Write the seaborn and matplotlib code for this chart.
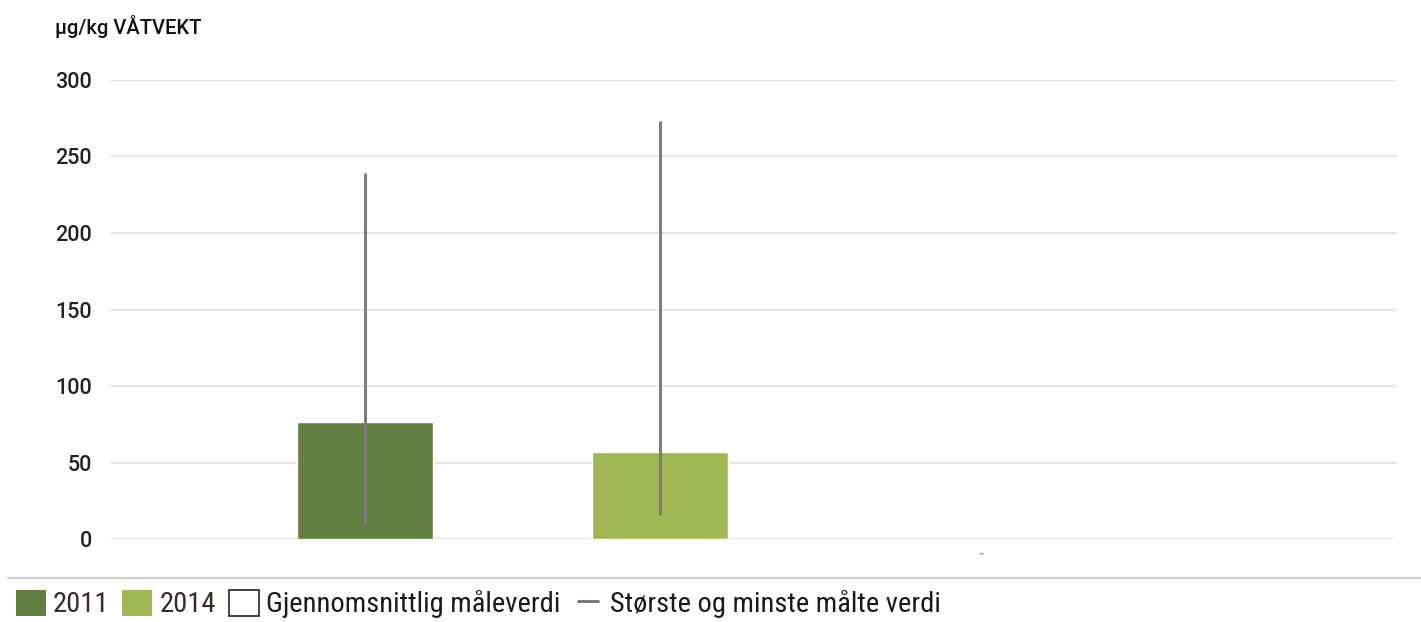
import matplotlib
matplotlib.use("Agg")
import matplotlib.pyplot as plt
from matplotlib.patches import Patch
from matplotlib.lines import Line2D
import seaborn as sns
import pandas as pd

# Measured mercury levels, µg/kg wet weight
years = ["2011", "2014"]
mean_values = [76.5, 57.0]
min_values = [10.0, 16.0]
max_values = [239.0, 273.0]
bar_colors = ["#647f42", "#a0b853"]
y_ticks = [0, 50, 100, 150, 200, 250, 300]
unit_label = "µg/kg VÅTVEKT"
legend_labels = ["2011", "2014", "Gjennomsnittlig måleverdi", "Største og minste målte verdi"]

sns.set_theme(style="white")
plt.rcParams["font.family"] = ["Roboto Condensed", "Roboto", "DejaVu Sans"]
regular = ["Roboto", "DejaVu Sans"]

df = pd.DataFrame({"year": years, "mean": mean_values, "lo": min_values, "hi": max_values})

fig = plt.figure(figsize=(14.21, 6.22), dpi=100)
ax = fig.add_axes([0.0774, 0.1334, 0.9056, 0.738])

sns.barplot(data=df, x="year", y="mean", hue="year", palette=bar_colors,
            width=0.46, legend=False, ax=ax, saturation=1, errorbar=None)

# range lines between smallest and largest measured value
ax.vlines(range(len(df)), df["lo"], df["hi"], color="#7d7d7d", linewidth=2.2, zorder=3)

ax.set_ylim(0, 300)
ax.set_xlim(-0.864, 3.498)
ax.set_yticks(y_ticks)
ax.set_yticklabels([str(v) for v in y_ticks], fontsize=15.5, color="#222222",
                   family=regular, fontweight="medium")
ax.tick_params(axis="y", length=0, pad=13)
ax.set_xticks([2.09])
ax.set_xticklabels(["-"], fontsize=13, color="#999999", family=regular)
ax.tick_params(axis="x", length=0, pad=4)
ax.set_xlabel("")
ax.set_ylabel("")
ax.yaxis.grid(True, color="#e6e6e6", linewidth=1.6)
ax.set_axisbelow(True)
for s in ax.spines.values():
    s.set_visible(False)

fig.text(55 / 1421, 1 - 27 / 622, unit_label, fontsize=14.5, color="#111111",
         va="center", ha="left", family=regular, fontweight="medium")

# separator above the legend
fig.add_artist(Line2D([8 / 1421, 1.0], [1 - 578 / 622] * 2, color="#cfcfcf",
                      linewidth=1.6, transform=fig.transFigure))

handles = [
    Patch(facecolor=bar_colors[0], edgecolor="none"),
    Patch(facecolor=bar_colors[1], edgecolor="none"),
    Patch(facecolor="white", edgecolor="#222222", linewidth=1.2),
    Line2D([], [], color="#7a6a66", marker="_", markersize=16, markeredgewidth=2, linestyle="none"),
]
leg = fig.legend(handles, legend_labels, loc="center left", bbox_to_anchor=(16 / 1421, 1 - 604 / 622),
                 ncol=4, frameon=False, fontsize=20.5, handlelength=1.05, handleheight=1.05,
                 handletextpad=0.25, columnspacing=0.45, borderaxespad=0, borderpad=0)
for t in leg.get_texts():
    t.set_color("#3b2a22")
for t in leg.get_texts()[2:]:
    t.set_color("#1a1a1a")

fig.savefig("out.png", dpi=100)
